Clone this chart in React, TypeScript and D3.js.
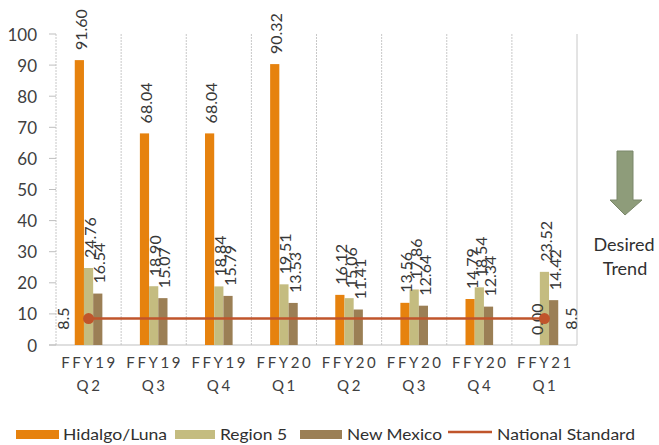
import React from "react";
import * as d3 from "d3";

const categories = ["FFY19|Q2", "FFY19|Q3", "FFY19|Q4", "FFY20|Q1", "FFY20|Q2", "FFY20|Q3", "FFY20|Q4", "FFY21|Q1"];
const hidalgo = [91.6, 68.04, 68.04, 90.32, 16.12, 13.56, 14.79, 0.0];
const region5 = [24.76, 18.9, 18.84, 19.51, 15.06, 17.86, 18.54, 23.52];
const newMexico = [16.54, 15.07, 15.79, 13.53, 11.41, 12.64, 12.34, 14.42];
const national = [8.5, 8.5, 8.5, 8.5, 8.5, 8.5, 8.5, 8.5];
const yTicks = [0, 10, 20, 30, 40, 50, 60, 70, 80, 90, 100];
const seriesNames = ["Hidalgo/Luna", "Region 5", "New Mexico", "National Standard"];

const COLORS = ["#E6820E", "#C4BC80", "#9B7F55", "#C0552B"];
const FONT = "Lato, 'Open Sans', sans-serif";

export default function App() {
  const W = 659, H = 445;
  const left = 56, right = 577, top = 34, bottom = 345;
  const x = d3.scaleBand<string>().domain(categories).range([left, right]).padding(0);
  const y = d3.scaleLinear().domain([0, 100]).range([bottom, top]);
  const bw = x.bandwidth();
  const barW = 9.2;
  const series = [hidalgo, region5, newMexico];
  const cx = (c: string) => (x(c) as number) + bw / 2;
  const line = d3.line<number>().x((_, i) => cx(categories[i])).y((d) => y(d));

  return (
    <svg width={W} height={H} style={{ position: "absolute", left: 0, top: 0, background: "#fff" }} fontFamily={FONT}>
      {d3.range(categories.length + 1).map((i) => {
        const gx = left + i * bw;
        return <line key={"g" + i} x1={gx} x2={gx} y1={top} y2={bottom} stroke="#c8c8c8" strokeWidth={1} strokeDasharray={i === categories.length ? undefined : "2,1"} />;
      })}
      <line x1={49} x2={right} y1={bottom} y2={bottom} stroke="#bfbfbf" strokeWidth={1} />
      {yTicks.map((t) => (
        <g key={"t" + t}>
          <line x1={49} x2={left} y1={y(t)} y2={y(t)} stroke="#bfbfbf" />
          <text x={37} y={y(t)} textAnchor="end" dominantBaseline="central" fontSize={17} fill="#404040">{t}</text>
        </g>
      ))}
      {series.map((s, si) =>
        s.map((v, i) => {
          const bx = cx(categories[i]) - 1.5 * barW + si * barW;
          return <rect key={`b${si}-${i}`} x={bx} y={y(v)} width={barW} height={bottom - y(v)} fill={COLORS[si]} />;
        })
      )}
      {series.map((s, si) =>
        s.map((v, i) => {
          const lx = cx(categories[i]) - 1.5 * barW + si * barW + barW / 2 + 1;
          const ly = y(v) - 10;
          return (
            <text key={`l${si}-${i}`} transform={`translate(${lx},${ly}) rotate(-90)`} textAnchor="start" dominantBaseline="central" fontSize={16} fill="#383838">
              {v.toFixed(2)}
            </text>
          );
        })
      )}
      <path d={line(national) as string} fill="none" stroke={COLORS[3]} strokeWidth={2.5} />
      {[0, national.length - 1].map((i) => (
        <circle key={"m" + i} cx={cx(categories[i])} cy={y(national[i])} r={5.5} fill={COLORS[3]} />
      ))}
      {[0, national.length - 1].map((i) => (
        <text key={"nl" + i} transform={`translate(${cx(categories[i]) + (i === 0 ? -26 : 26)},${y(national[i])}) rotate(-90)`} textAnchor="middle" dominantBaseline="central" fontSize={16} fill="#383838">
          {national[i]}
        </text>
      ))}
      {categories.map((c) => {
        const [a, b] = c.split("|");
        return (
          <g key={"x" + c}>
            <text x={cx(c) + 1} y={362} textAnchor="middle" dominantBaseline="central" fontSize={15} letterSpacing={2.6} fill="#404040">{a}</text>
            <text x={cx(c) + 1} y={385} textAnchor="middle" dominantBaseline="central" fontSize={15} letterSpacing={2.6} fill="#404040">{b}</text>
          </g>
        );
      })}
      <path d="M617,151 L633,151 L633,200 L642,200 L625,215 L610,200 L617,200 Z" fill="#8E9C7A" stroke="#7a876a" strokeWidth={1} />
      <text x={624} y={244} textAnchor="middle" dominantBaseline="central" fontSize={18} fill="#303030">Desired</text>
      <text x={625} y={268} textAnchor="middle" dominantBaseline="central" fontSize={18} fill="#303030">Trend</text>
      <rect x={16} y={430} width={43} height={9} fill={COLORS[0]} />
      <text x={63} y={433} dominantBaseline="central" fontSize={16} textLength={104} lengthAdjust="spacingAndGlyphs" fill="#303030">{seriesNames[0]}</text>
      <rect x={175} y={430} width={40} height={9} fill={COLORS[1]} />
      <text x={220} y={433} dominantBaseline="central" fontSize={16} textLength={67} lengthAdjust="spacingAndGlyphs" fill="#303030">{seriesNames[1]}</text>
      <rect x={300} y={430} width={42} height={9} fill={COLORS[2]} />
      <text x={347} y={433} dominantBaseline="central" fontSize={16} textLength={95} lengthAdjust="spacingAndGlyphs" fill="#303030">{seriesNames[2]}</text>
      <line x1={448} x2={492} y1={432} y2={432} stroke={COLORS[3]} strokeWidth={2.5} />
      <text x={497} y={433} dominantBaseline="central" fontSize={16} textLength={138} lengthAdjust="spacingAndGlyphs" fill="#303030">{seriesNames[3]}</text>
    </svg>
  );
}
